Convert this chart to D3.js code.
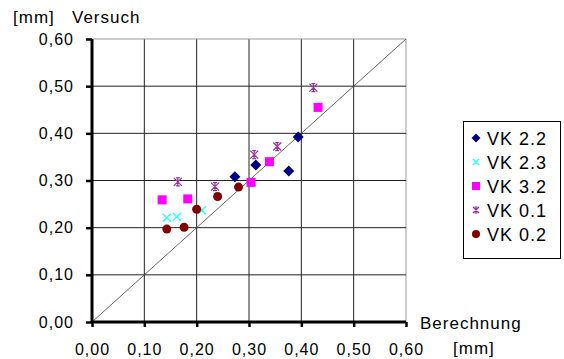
<!DOCTYPE html>
<html>
<head>
<meta charset="utf-8">
<script src="https://cdn.jsdelivr.net/npm/d3@7"></script>
<style>
  body { margin: 0; background: #fff; }
  text { font-family: "Liberation Sans", Arial, sans-serif; fill: #000; }
</style>
</head>
<body>
<div id="chart"></div>
<script>
// values (Berechnung, Versuch) in mm
const vk22 = [[0.273, 0.308], [0.313, 0.333], [0.376, 0.320], [0.394, 0.392]];
const vk23 = [[0.143, 0.221], [0.162, 0.223], [0.210, 0.237]];
const vk32 = [[0.134, 0.259], [0.183, 0.261], [0.304, 0.296], [0.339, 0.340], [0.432, 0.455]];
const vk01 = [[0.164, 0.297], [0.235, 0.287], [0.310, 0.355], [0.354, 0.372], [0.423, 0.497]];
const vk02 = [[0.143, 0.197], [0.176, 0.201], [0.200, 0.239], [0.240, 0.266], [0.280, 0.286]];
const ticks = [0, 0.1, 0.2, 0.3, 0.4, 0.5, 0.6];

const series = [
    {name: "VK 2.2", data: vk22, color: "#000080", shape: "diamond"},
    {name: "VK 2.3", data: vk23, color: "#33ffff", shape: "cross"},
    {name: "VK 3.2", data: vk32, color: "#ff00ff", shape: "square"},
    {name: "VK 0.1", data: vk01, color: "#993399", shape: "star"},
    {name: "VK 0.2", data: vk02, color: "#800000", shape: "circle"}
];

const width = 564, height = 359;
const plot = {left: 92, right: 406, top: 39, bottom: 322};

const svg = d3.select("#chart").append("svg")
    .attr("width", width)
    .attr("height", height);

const x = d3.scaleLinear().domain([0, 0.6]).range([plot.left, plot.right]);
const y = d3.scaleLinear().domain([0, 0.6]).range([plot.bottom, plot.top]);
const fmt = d => d3.format(".2f")(d).replace(".", ",");

// grid
const grid = svg.append("g");
grid.selectAll("line.gx")
    .data(ticks.slice(1))
    .join("line")
    .attr("x1", d => x(d)).attr("x2", d => x(d))
    .attr("y1", plot.top).attr("y2", plot.bottom)
    .attr("stroke", d => d === 0.6 ? "#999" : "#222")
    .attr("stroke-width", 1);
grid.selectAll("line.gy")
    .data(ticks.slice(1))
    .join("line")
    .attr("y1", d => y(d)).attr("y2", d => y(d))
    .attr("x1", plot.left).attr("x2", plot.right)
    .attr("stroke", d => d === 0.6 ? "#999" : "#222")
    .attr("stroke-width", 1);

// diagonal
svg.append("line")
    .attr("x1", x(0)).attr("y1", y(0))
    .attr("x2", x(0.6)).attr("y2", y(0.6))
    .attr("stroke", "#444")
    .attr("stroke-width", 0.8);

// axes
const xAxis = d3.axisBottom(x).tickValues(ticks).tickFormat(fmt).tickSize(5).tickPadding(17);
const yAxis = d3.axisLeft(y).tickValues(ticks).tickFormat(fmt).tickSize(6).tickPadding(12);

const gx = svg.append("g").attr("transform", `translate(0,${plot.bottom})`).call(xAxis);
const gy = svg.append("g").attr("transform", `translate(${plot.left},0)`).call(yAxis);
[gx, gy].forEach(g => {
    g.select(".domain").attr("stroke", "#000").attr("stroke-width", 3);
    g.selectAll(".tick line").attr("stroke", "#000").attr("stroke-width", 2.5);
    g.selectAll(".tick text")
        .style("font-family", "'Liberation Sans', Arial, sans-serif")
        .style("font-size", "16px")
        .style("letter-spacing", "1px")
        .attr("fill", "#000");
});
gx.select(".domain").attr("d", `M${plot.left},0H${plot.right}`);
gy.select(".domain").attr("d", `M0,${plot.bottom}V${plot.top}`);

// axis titles
const title = (tx, ty, s) => svg.append("text")
    .attr("x", tx).attr("y", ty)
    .style("font-size", "17px")
    .style("letter-spacing", "1px")
    .text(s);
title(13, 23, "[mm]");
title(72, 23, "Versuch");
title(420, 329, "Berechnung");
title(453, 354, "[mm]");

// marker shapes
function marker(g, shape, color, s) {
    if (shape === "diamond") {
        g.append("path").attr("d", `M0,${-s}L${s},0L0,${s}L${-s},0Z`).attr("fill", color);
    } else if (shape === "square") {
        g.append("rect").attr("x", -s + 0.5).attr("y", -s + 0.5)
            .attr("width", 2 * s - 1).attr("height", 2 * s - 1).attr("fill", color);
    } else if (shape === "circle") {
        g.append("circle").attr("r", s - 0.5).attr("fill", color);
    } else if (shape === "cross") {
        const c = s - 1;
        g.append("path").attr("d", `M${-c},${-c}L${c},${c}M${-c},${c}L${c},${-c}`)
            .attr("stroke", color).attr("stroke-width", 1.5).attr("fill", "none");
    } else if (shape === "star") {
        const c = s - 1, h = c / 2;
        g.append("path").attr("d", `M${-c},${-c}L${c},${c}M${-c},${c}L${c},${-c}M0,${-c}V${c}M${-h},${-c}H${h}M${-h},${c}H${h}`)
            .attr("stroke", color).attr("stroke-width", 1.2).attr("fill", "none");
    }
}

// points
series.forEach(sr => {
    svg.append("g").selectAll("g")
        .data(sr.data)
        .join("g")
        .attr("transform", d => `translate(${x(d[0])},${y(d[1])})`)
        .each(function () {
            marker(d3.select(this), sr.shape, sr.color, sr.shape === "diamond" ? 5.5 : 5);
        });
});

// legend
const legend = svg.append("g").attr("transform", "translate(463,121)");
legend.append("rect")
    .attr("x", 0.5).attr("y", 0.5)
    .attr("width", 97).attr("height", 137)
    .attr("fill", "#fff").attr("stroke", "#000").attr("stroke-width", 1);
const items = legend.selectAll("g.item")
    .data(series)
    .join("g")
    .attr("class", "item")
    .attr("transform", (d, i) => `translate(0,${17 + i * 24})`);
items.each(function (d) {
    const g = d3.select(this).append("g").attr("transform", "translate(13,0)");
    marker(g, d.shape, d.color, d.shape === "cross" || d.shape === "star" ? 4 : 4.5);
});
items.append("text")
    .attr("x", 24).attr("y", 6.5)
    .style("font-size", "18px")
    .style("letter-spacing", "1px")
    .text(d => d.name);
</script>
</body>
</html>
